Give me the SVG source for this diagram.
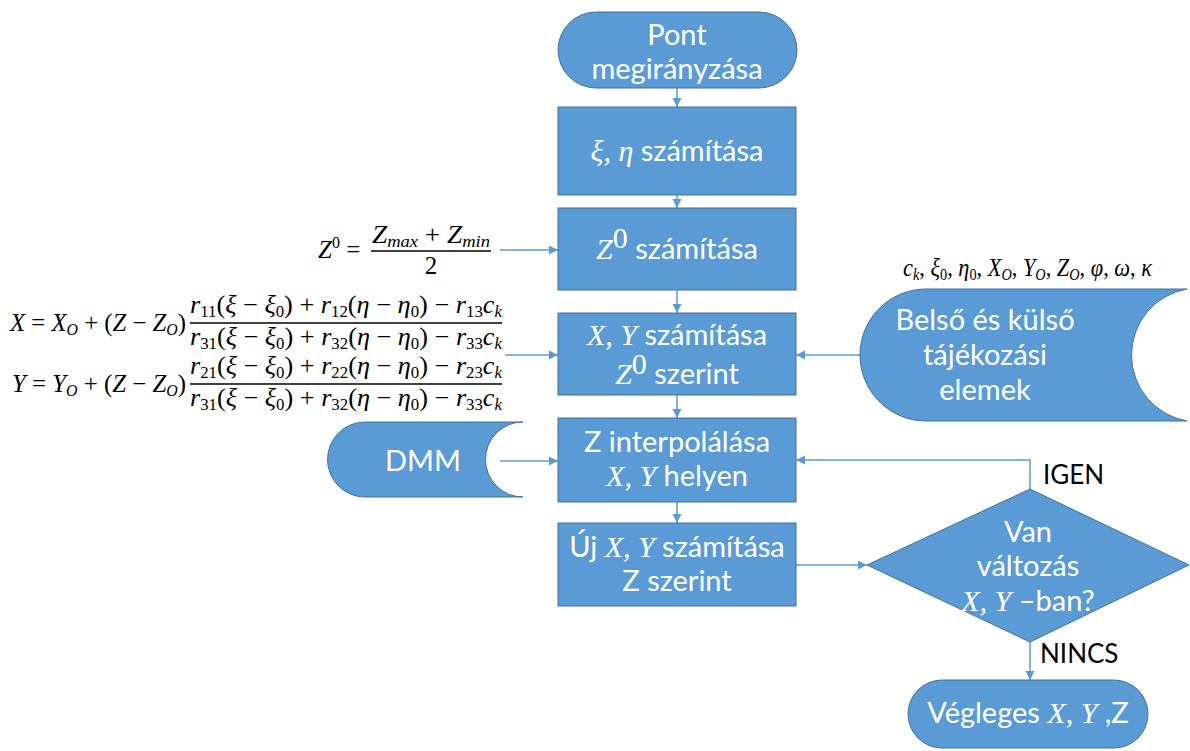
<svg xmlns="http://www.w3.org/2000/svg" width="1190" height="751" viewBox="0 0 1190 751">
<defs>
<style>
.shape{fill:#5B9BD5;stroke:#41719C;stroke-width:1}
.lbl{font-family:Lato,"Open Sans",sans-serif;font-size:29px;fill:#FFFFFF;text-anchor:middle}
.m{font-family:"Liberation Serif",serif;font-style:italic;font-size:30px}
.blk{font-family:Lato,"Open Sans",sans-serif;font-size:26px;fill:#000000}
.f{font-family:"Liberation Serif",serif;font-style:italic;font-size:25px;fill:#000000}
.up{font-style:normal}
.conn{stroke:#5B9BD5;stroke-width:1.5;fill:none}
.frac{stroke:#000000;stroke-width:1.3}
</style>
<marker id="ah" markerWidth="10" markerHeight="10" refX="9" refY="4.5" orient="auto" markerUnits="userSpaceOnUse">
<path d="M0,0 L9,4.5 L0,9 z" fill="#5B9BD5"/>
</marker>
</defs>
<rect width="1190" height="751" fill="#FFFFFF"/>

<g id="connectors">
<line class="conn" x1="677" y1="88" x2="677" y2="107" marker-end="url(#ah)"/>
<line class="conn" x1="677" y1="195" x2="677" y2="208" marker-end="url(#ah)"/>
<line class="conn" x1="677" y1="290" x2="677" y2="313" marker-end="url(#ah)"/>
<line class="conn" x1="677" y1="395" x2="677" y2="418" marker-end="url(#ah)"/>
<line class="conn" x1="677" y1="502" x2="677" y2="523" marker-end="url(#ah)"/>
<line class="conn" x1="500" y1="250" x2="558" y2="250" marker-end="url(#ah)"/>
<line class="conn" x1="505" y1="355" x2="558" y2="355" marker-end="url(#ah)"/>
<line class="conn" x1="860" y1="355" x2="796" y2="355" marker-end="url(#ah)"/>
<line class="conn" x1="500" y1="461" x2="558" y2="461" marker-end="url(#ah)"/>
<line class="conn" x1="796" y1="565" x2="867" y2="565" marker-end="url(#ah)"/>
<polyline class="conn" points="1030,489 1030,460 796,460" marker-end="url(#ah)"/>
<line class="conn" x1="1030" y1="642" x2="1030" y2="680" marker-end="url(#ah)"/>
<text class="blk" x="1043" y="484">IGEN</text>
<text class="blk" x="1040" y="663">NINCS</text>
</g>

<g id="start">
<rect class="shape" x="558" y="12" width="239" height="76" rx="38"/>
<text class="lbl" x="677" y="45">Pont</text>
<text class="lbl" x="677" y="79">megirányzása</text>
</g>

<g id="xi-eta">
<rect class="shape" x="558" y="107" width="238" height="88"/>
<text class="lbl" x="677" y="161"><tspan class="m">ξ, η</tspan> számítása</text>
</g>

<g id="z0">
<rect class="shape" x="558" y="208" width="238" height="82"/>
<text class="lbl" x="677" y="259"><tspan class="m">Z</tspan><tspan class="m up" font-size="18" dy="-11">0</tspan><tspan dy="11"> számítása</tspan></text>
</g>

<g id="xy-z0">
<rect class="shape" x="558" y="313" width="238" height="82"/>
<text class="lbl" x="677" y="345"><tspan class="m">X, Y</tspan> számítása</text>
<text class="lbl" x="677" y="384"><tspan class="m">Z</tspan><tspan class="m up" font-size="18" dy="-10">0</tspan><tspan dy="10"> szerint</tspan></text>
</g>

<g id="z-interp">
<rect class="shape" x="558" y="418" width="238" height="84"/>
<text class="lbl" x="677" y="452">Z interpolálása</text>
<text class="lbl" x="677" y="486"><tspan class="m">X, Y</tspan> helyen</text>
</g>

<g id="new-xy">
<rect class="shape" x="558" y="523" width="238" height="83"/>
<text class="lbl" x="677" y="557">Új <tspan class="m">X, Y</tspan> számítása</text>
<text class="lbl" x="677" y="591">Z szerint</text>
</g>

<g id="params">
<path class="shape" d="M1187,289 L926,289 A66,66 0 0 0 926,421 L1187,421 A67,67 0 0 1 1187,289 Z"/>
<text class="lbl" x="985" y="330">Belső és külső</text>
<text class="lbl" x="985" y="365">tájékozási</text>
<text class="lbl" x="985" y="400">elemek</text>
</g>

<g id="dmm">
<path class="shape" d="M523,422 L365,422 A37.5,37.5 0 0 0 365,497 L523,497 A37.5,37.5 0 0 1 523,422 Z"/>
<text class="lbl" x="423" y="471">DMM</text>
</g>

<g id="decision">
<polygon class="shape" points="1030,489 1189,565 1030,642 867,565"/>
<text class="lbl" x="1028" y="542">Van</text>
<text class="lbl" x="1028" y="576">változás</text>
<text class="lbl" x="1028" y="611"><tspan class="m">X, Y</tspan> –ban?</text>
</g>

<g id="final">
<rect class="shape" x="908" y="680" width="240" height="68" rx="34"/>
<text class="lbl" x="1028" y="723">Végleges <tspan class="m">X, Y</tspan> ,Z</text>
</g>

<g id="formula-z0">
<text class="f" x="318" y="258">Z<tspan class="up" font-size="16" dy="-10">0</tspan><tspan class="up" dy="10"> =</tspan></text>
<text class="f" x="431" y="243" text-anchor="middle" textLength="118" lengthAdjust="spacingAndGlyphs">Z<tspan font-size="17" dy="4">max</tspan><tspan class="up" dy="-4"> + </tspan>Z<tspan font-size="17" dy="4">min</tspan></text>
<line class="frac" x1="371" y1="251" x2="491" y2="251"/>
<text class="f up" x="431" y="274" text-anchor="middle">2</text>
</g>

<g id="formula-xy">
<text class="f" x="10" y="331" textLength="176" lengthAdjust="spacingAndGlyphs">X <tspan class="up">=</tspan> X<tspan font-size="16" dy="4">O</tspan><tspan class="up" dy="-4"> + (</tspan>Z<tspan class="up"> − </tspan>Z<tspan font-size="16" dy="4">O</tspan><tspan class="up" dy="-4">)</tspan></text>
<text class="f" x="190" y="313" textLength="312" lengthAdjust="spacingAndGlyphs">r<tspan class="up" font-size="16" dy="4">11</tspan><tspan class="up" dy="-4">(</tspan>ξ<tspan class="up"> − </tspan>ξ<tspan class="up" font-size="16" dy="4">0</tspan><tspan class="up" dy="-4">) + </tspan>r<tspan class="up" font-size="16" dy="4">12</tspan><tspan class="up" dy="-4">(</tspan>η<tspan class="up"> − </tspan>η<tspan class="up" font-size="16" dy="4">0</tspan><tspan class="up" dy="-4">) − </tspan>r<tspan class="up" font-size="16" dy="4">13</tspan><tspan dy="-4">c</tspan><tspan font-size="16" dy="4">k</tspan></text>
<line class="frac" x1="190" y1="323" x2="502" y2="323"/>
<text class="f" x="190" y="345" textLength="312" lengthAdjust="spacingAndGlyphs">r<tspan class="up" font-size="16" dy="4">31</tspan><tspan class="up" dy="-4">(</tspan>ξ<tspan class="up"> − </tspan>ξ<tspan class="up" font-size="16" dy="4">0</tspan><tspan class="up" dy="-4">) + </tspan>r<tspan class="up" font-size="16" dy="4">32</tspan><tspan class="up" dy="-4">(</tspan>η<tspan class="up"> − </tspan>η<tspan class="up" font-size="16" dy="4">0</tspan><tspan class="up" dy="-4">) − </tspan>r<tspan class="up" font-size="16" dy="4">33</tspan><tspan dy="-4">c</tspan><tspan font-size="16" dy="4">k</tspan></text>

<text class="f" x="12" y="392" textLength="174" lengthAdjust="spacingAndGlyphs">Y <tspan class="up">=</tspan> Y<tspan font-size="16" dy="4">O</tspan><tspan class="up" dy="-4"> + (</tspan>Z<tspan class="up"> − </tspan>Z<tspan font-size="16" dy="4">O</tspan><tspan class="up" dy="-4">)</tspan></text>
<text class="f" x="190" y="374" textLength="312" lengthAdjust="spacingAndGlyphs">r<tspan class="up" font-size="16" dy="4">21</tspan><tspan class="up" dy="-4">(</tspan>ξ<tspan class="up"> − </tspan>ξ<tspan class="up" font-size="16" dy="4">0</tspan><tspan class="up" dy="-4">) + </tspan>r<tspan class="up" font-size="16" dy="4">22</tspan><tspan class="up" dy="-4">(</tspan>η<tspan class="up"> − </tspan>η<tspan class="up" font-size="16" dy="4">0</tspan><tspan class="up" dy="-4">) − </tspan>r<tspan class="up" font-size="16" dy="4">23</tspan><tspan dy="-4">c</tspan><tspan font-size="16" dy="4">k</tspan></text>
<line class="frac" x1="190" y1="384" x2="502" y2="384"/>
<text class="f" x="190" y="406" textLength="312" lengthAdjust="spacingAndGlyphs">r<tspan class="up" font-size="16" dy="4">31</tspan><tspan class="up" dy="-4">(</tspan>ξ<tspan class="up"> − </tspan>ξ<tspan class="up" font-size="16" dy="4">0</tspan><tspan class="up" dy="-4">) + </tspan>r<tspan class="up" font-size="16" dy="4">32</tspan><tspan class="up" dy="-4">(</tspan>η<tspan class="up"> − </tspan>η<tspan class="up" font-size="16" dy="4">0</tspan><tspan class="up" dy="-4">) − </tspan>r<tspan class="up" font-size="16" dy="4">33</tspan><tspan dy="-4">c</tspan><tspan font-size="16" dy="4">k</tspan></text>
</g>

<g id="formula-params">
<text class="f" x="903" y="276" textLength="249" lengthAdjust="spacingAndGlyphs">c<tspan font-size="16" dy="4">k</tspan><tspan class="up" dy="-4">, </tspan>ξ<tspan class="up" font-size="16" dy="4">0</tspan><tspan class="up" dy="-4">, </tspan>η<tspan class="up" font-size="16" dy="4">0</tspan><tspan class="up" dy="-4">, </tspan>X<tspan font-size="16" dy="4">O</tspan><tspan class="up" dy="-4">, </tspan>Y<tspan font-size="16" dy="4">O</tspan><tspan class="up" dy="-4">, </tspan>Z<tspan font-size="16" dy="4">O</tspan><tspan class="up" dy="-4">, </tspan>φ<tspan class="up">, </tspan>ω<tspan class="up">, </tspan>κ</text>
</g>
</svg>
